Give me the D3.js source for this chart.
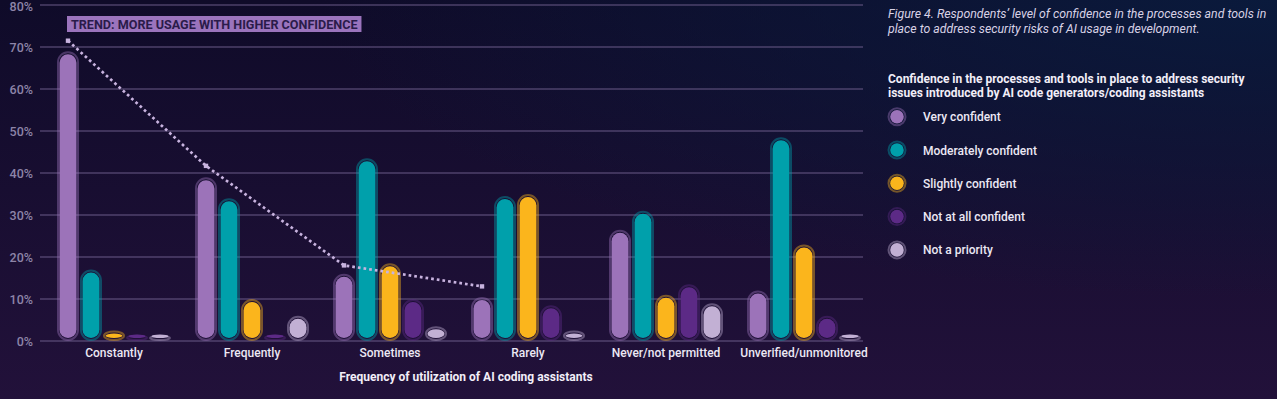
<!DOCTYPE html>
<html lang="en">
<head>
<meta charset="UTF-8">
<title>AI coding assistants - confidence</title>
<script src="https://d3js.org/d3.v7.min.js"></script>
<style>
  html, body { margin: 0; padding: 0; background: #150d2e; }
  svg { display: block; font-family: Roboto, "Noto Sans", sans-serif; }
</style>
</head>
<body>
<div id="chart"></div>
<script>
// categories (x axis groups)
var groups = ["Constantly", "Frequently", "Sometimes", "Rarely", "Never/not permitted", "Unverified/unmonitored"];
// series (legend)
var seriesNames = ["Very confident", "Moderately confident", "Slightly confident", "Not at all confident", "Not a priority"];
var seriesColors = ["#9c73b9", "#00a0ab", "#fbb51c", "#5c2a86", "#c2b0d4"];

// values in %, one array per series
var veryConfident       = [69, 39, 16, 10.5, 26.5, 12];
var moderatelyConfident = [17, 34, 43.5, 34.5, 31, 48.5];
var slightlyConfident   = [2.5, 10, 18.5, 35, 11, 23];
var notAtAllConfident   = [1.5, 1.5, 10, 8.5, 13.5, 6];
var notAPriority        = [1, 6, 3.5, 2.5, 9, 1.5];

// dotted trend line (above "Very confident" bars)
var trendGroups = ["Constantly", "Frequently", "Sometimes", "Rarely"];
var trendValues = [71.5, 41.7, 18, 13];

var yTicks = [0, 10, 20, 30, 40, 50, 60, 70, 80];

var W = 1277, H = 399;
var seriesValues = [veryConfident, moderatelyConfident, slightlyConfident, notAtAllConfident, notAPriority];

var svg = d3.select("#chart").append("svg")
    .attr("width", W)
    .attr("height", H);

// background
var defs = svg.append("defs");
var bg = defs.append("linearGradient").attr("id", "bg")
    .attr("x1", "0").attr("y1", "0").attr("x2", "0").attr("y2", "1");
bg.append("stop").attr("offset", "0%").attr("stop-color", "#0f0b29");
bg.append("stop").attr("offset", "100%").attr("stop-color", "#22113a");
var glow = defs.append("radialGradient").attr("id", "glow")
    .attr("cx", "1").attr("cy", "0").attr("r", "0.75");
glow.append("stop").attr("offset", "0%").attr("stop-color", "#0a1a3c").attr("stop-opacity", 1);
glow.append("stop").attr("offset", "100%").attr("stop-color", "#0a1a3c").attr("stop-opacity", 0);
svg.append("rect").attr("width", W).attr("height", H).attr("fill", "url(#bg)");
svg.append("rect").attr("width", W).attr("height", H).attr("fill", "url(#glow)");

// scales
var y = d3.scaleLinear().domain([0, 80]).range([341, 5]);
var x0 = d3.scaleBand().domain(groups).range([45, 873]).padding(0);
var x1 = d3.scaleBand().domain(seriesNames).range([0, 115]).padding(0);
var groupOffset = (x0.bandwidth() - 115) / 2;
function cx(g, s) { return x0(g) + groupOffset + x1(s) + x1.bandwidth() / 2; }

// gridlines + y labels
svg.append("g").selectAll("line")
    .data(yTicks).enter().append("line")
    .attr("x1", 40).attr("x2", 863)
    .attr("y1", function(d) { return y(d); })
    .attr("y2", function(d) { return y(d); })
    .attr("stroke", "#6a5a88")
    .attr("stroke-width", 1);

svg.append("g").selectAll("text")
    .data(yTicks).enter().append("text")
    .attr("x", 33)
    .attr("y", function(d) { return Math.max(y(d) + 4.5, 10.5); })
    .attr("text-anchor", "end")
    .attr("font-size", "12.5px")
    .attr("font-weight", 500)
    .attr("fill", "#8d84a8")
    .text(function(d) { return d + "%"; });

// bars
var barData = [];
groups.forEach(function(g, gi) {
    seriesNames.forEach(function(s, si) {
        barData.push({group: g, series: s, color: seriesColors[si], value: seriesValues[si][gi]});
    });
});

var bars = svg.append("g").selectAll("g")
    .data(barData).enter().append("g");

// outer ring
bars.append("rect")
    .attr("x", function(d) { return cx(d.group, d.series) - 10; })
    .attr("y", function(d) { return Math.min(y(d.value) + 1, y(0) - 5); })
    .attr("width", 20)
    .attr("height", function(d) { return Math.max(y(0) - y(d.value) - 2, 4); })
    .attr("rx", 10)
    .attr("fill", "none")
    .attr("stroke", function(d) { return d.color; })
    .attr("stroke-opacity", 0.42)
    .attr("stroke-width", 2);

// inner pill
bars.append("rect")
    .attr("x", function(d) { return cx(d.group, d.series) - 8.5; })
    .attr("y", function(d) { return Math.min(y(d.value) + 3, y(0) - 6.5); })
    .attr("width", 17)
    .attr("height", function(d) { return Math.max(y(0) - y(d.value) - 6, 3.5); })
    .attr("rx", 8.5)
    .attr("fill", function(d) { return d.color; });

// trend line (straight segments, dotted)
var trendPts = trendGroups.map(function(g, i) {
    return [cx(g, seriesNames[0]), y(trendValues[i])];
});
svg.append("path")
    .attr("d", d3.line()(trendPts))
    .attr("fill", "none")
    .attr("stroke", "#c8b3df")
    .attr("stroke-width", 2.7)
    .attr("stroke-dasharray", "2.7,3");
svg.append("g").selectAll("rect")
    .data(trendPts).enter().append("rect")
    .attr("x", function(d) { return d[0] - 2.2; })
    .attr("y", function(d) { return d[1] - 2.2; })
    .attr("width", 4.4).attr("height", 4.4)
    .attr("fill", "#c8b3df");

// trend annotation
var ann = svg.append("g");
var annText = ann.append("text")
    .attr("x", 71).attr("y", 28.8)
    .attr("font-size", "12.6px")
    .attr("font-weight", 700)
    .attr("fill", "#2a1b4a")
    .text("TREND: MORE USAGE WITH HIGHER CONFIDENCE");
var bb = annText.node().getBBox();
ann.insert("rect", "text")
    .attr("x", 67).attr("y", 16)
    .attr("width", bb.width + 8).attr("height", 16)
    .attr("fill", "#9b74bd");

// x labels
svg.append("g").selectAll("text")
    .data(groups).enter().append("text")
    .attr("x", function(d) { return x0(d) + x0.bandwidth() / 2; })
    .attr("y", 357)
    .attr("text-anchor", "middle")
    .attr("font-size", "12px")
    .attr("font-weight", 500)
    .attr("fill", "#ece8f4")
    .text(function(d) { return d; });

svg.append("text")
    .attr("x", 466).attr("y", 381)
    .attr("text-anchor", "middle")
    .attr("font-size", "12px")
    .attr("font-weight", 700)
    .attr("fill", "#f2eef8")
    .text("Frequency of utilization of AI coding assistants");

// caption
var caption = ["Figure 4. Respondents\u2019 level of confidence in the processes and tools in",
               "place to address security risks of AI usage in development."];
svg.append("g").selectAll("text")
    .data(caption).enter().append("text")
    .attr("x", 888)
    .attr("y", function(d, i) { return 18 + i * 15; })
    .attr("font-size", "12.3px")
    .attr("font-style", "italic")
    .attr("fill", "#d8d2e6")
    .text(function(d) { return d; });

// legend
var legendTitle = ["Confidence in the processes and tools in place to address security",
                   "issues introduced by AI code generators/coding assistants"];
svg.append("g").selectAll("text")
    .data(legendTitle).enter().append("text")
    .attr("x", 888)
    .attr("y", function(d, i) { return 83 + i * 14; })
    .attr("font-size", "12px")
    .attr("font-weight", 700)
    .attr("fill", "#f2eef8")
    .text(function(d) { return d; });

var legend = svg.append("g").selectAll("g")
    .data(seriesNames).enter().append("g")
    .attr("transform", function(d, i) { return "translate(897," + (116.7 + i * 33.3) + ")"; });
legend.append("circle")
    .attr("r", 8.5)
    .attr("fill", "none")
    .attr("stroke", function(d, i) { return seriesColors[i]; })
    .attr("stroke-opacity", 0.42)
    .attr("stroke-width", 2);
legend.append("circle")
    .attr("r", 6.8)
    .attr("fill", function(d, i) { return seriesColors[i]; });
legend.append("text")
    .attr("x", 26).attr("y", 4.5)
    .attr("font-size", "12px")
    .attr("font-weight", 500)
    .attr("fill", "#ece8f4")
    .text(function(d) { return d; });
</script>
</body>
</html>
